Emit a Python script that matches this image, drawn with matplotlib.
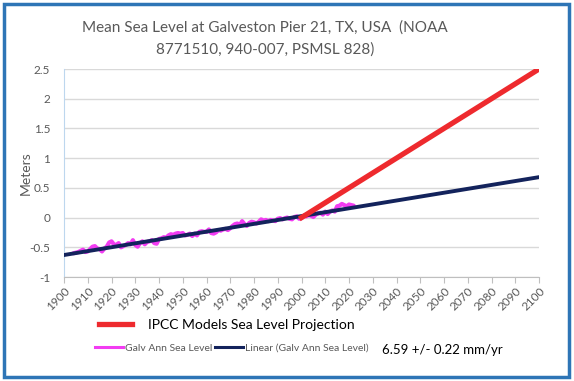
import matplotlib
matplotlib.use("Agg")
import matplotlib.pyplot as plt
from matplotlib.patches import Rectangle

plt.rcParams['font.family'] = ['Lato', 'DejaVu Sans']

# annual mean sea level, Galveston Pier 21 (m)
years = list(range(1904, 2023))
sea_level = [
    -0.60, -0.59, -0.58, -0.56, -0.54, -0.58, -0.57, -0.53, -0.49, -0.48,
    -0.52, -0.53, -0.57, -0.52, -0.49, -0.42, -0.40, -0.45, -0.46, -0.43,
    -0.50, -0.48, -0.46, -0.43, -0.45, -0.38, -0.46, -0.49, -0.43, -0.40,
    -0.45, -0.41, -0.40, -0.38, -0.43, -0.44, -0.36, -0.35, -0.33, -0.34,
    -0.30, -0.28, -0.29, -0.27, -0.26, -0.27, -0.26, -0.30, -0.29, -0.27,
    -0.31, -0.27, -0.30, -0.24, -0.23, -0.24, -0.24, -0.20, -0.26, -0.27,
    -0.25, -0.21, -0.22, -0.20, -0.19, -0.21, -0.18, -0.14, -0.11, -0.10,
    -0.13, -0.06, -0.11, -0.14, -0.09, -0.07, -0.08, -0.10, -0.07, -0.03,
    -0.05, -0.04, -0.06, -0.04, -0.05, -0.06, -0.02, -0.01, -0.03, -0.01,
    0.00, -0.02, -0.03, 0.01, 0.02, -0.02, -0.01, 0.03, 0.02, 0.04,
    0.03, 0.01, 0.05, 0.07, 0.08, 0.05, 0.10, 0.06, 0.10, 0.12,
    0.10, 0.19, 0.20, 0.23, 0.21, 0.19, 0.22, 0.21, 0.20,
]

trend_years = [1900, 2100]
trend_values = [-0.63, 0.68]

ipcc_years = [2000, 2100]
ipcc_values = [0.0, 2.5]

xticks = list(range(1900, 2101, 10))
yticks = [-1, -0.5, 0, 0.5, 1, 1.5, 2, 2.5]
ytick_labels = ['-1', '-0.5', '0', '0.5', '1', '1.5', '2', '2.5']

gray = '#595959'
magenta = '#F23CF2'
navy = '#13235C'
red = '#EE2A2E'

fig = plt.figure(figsize=(5.74, 3.81), dpi=100)
ax = fig.add_axes([64/574, 1-277/381, 475/574, 208/381])

ax.plot(years, sea_level, color=magenta, lw=3, solid_capstyle='round', zorder=2)
ax.plot(trend_years, trend_values, color=navy, lw=2.8, zorder=3)
ax.plot(ipcc_years, ipcc_values, color=red, lw=3.8, zorder=4)

ax.set_xlim(1900, 2100)
ax.set_ylim(-1, 2.5)
ax.set_xticks(xticks)
ax.set_xticklabels([str(x) for x in xticks], rotation=45, ha='right',
                   rotation_mode='anchor', fontsize=8.5, color=gray)
ax.set_yticks(yticks)
ax.set_yticklabels(ytick_labels, fontsize=8.5, color=gray)
ax.tick_params(axis='y', length=0, pad=10)
ax.tick_params(axis='x', length=4, color='#BFBFBF', pad=2)
ax.grid(axis='y', color='#D9D9D9', lw=1)
ax.set_axisbelow(True)
for s in ['top', 'right']:
    ax.spines[s].set_visible(False)
ax.spines['left'].set_color('#BDD7EE')
ax.spines['bottom'].set_color('#BFBFBF')
ax.set_ylabel('Meters', fontsize=10, color=gray)
ax.yaxis.set_label_coords(-0.068, 0.5)

fig.text(265/574, 1-28/381, 'Mean Sea Level at Galveston Pier 21, TX, USA  (NOAA',
         ha='center', va='center', fontsize=11, color=gray)
fig.text(265/574, 1-50/381, '8771510, 940-007, PSMSL 828)',
         ha='center', va='center', fontsize=11, color=gray)

# legend rows
l1, = plt.plot([], [], color=red, lw=3.8)
fig.legend([l1], ['IPCC Models Sea Level Projection'], loc='center left',
           bbox_to_anchor=(92/574, 1-325/381), frameon=False, borderpad=0,
           handlelength=2.4, handletextpad=1.1, fontsize=10)
l2, = plt.plot([], [], color=magenta, lw=2.2)
l3, = plt.plot([], [], color=navy, lw=2.2)
leg = fig.legend([l2, l3], ['Galv Ann Sea Level', 'Linear (Galv Ann Sea Level)'],
                 loc='center left', bbox_to_anchor=(90/574, 1-348/381),
                 frameon=False, borderpad=0, ncol=2, handlelength=2.7,
                 handletextpad=0.2, columnspacing=0.2, fontsize=7.5)
for t in leg.get_texts():
    t.set_color(gray)
fig.text(382/574, 1-350/381, '6.59 +/- 0.22 mm/yr', ha='left', va='center',
         fontsize=9.5, color='black')

fig.patches.append(Rectangle((4/574, 4/381), 565/574, 373/381, transform=fig.transFigure,
                             fill=False, edgecolor='#2E75B6', lw=2.5))

fig.savefig('out.png', dpi=100, facecolor='white')
